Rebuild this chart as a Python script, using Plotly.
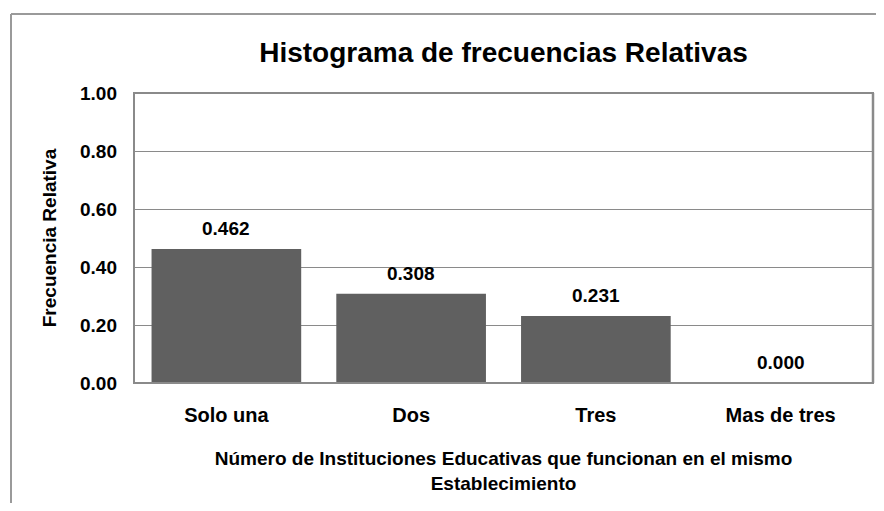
import plotly.graph_objects as go

categories = ["Solo una", "Dos", "Tres", "Mas de tres"]
rel_freq = [0.462, 0.308, 0.231, 0.000]
y_ticks = [0.0, 0.2, 0.4, 0.6, 0.8, 1.0]

title_text = "Histograma de frecuencias Relativas"
x_title = "Número de Instituciones Educativas que funcionan en el mismo<br>Establecimiento"
y_title = "Frecuencia Relativa"

FONT = "Arial, Liberation Sans, sans-serif"
BAR = "#606060"
LINE = "#8a8a8a"

fig = go.Figure()
fig.add_trace(go.Bar(
    x=categories, y=rel_freq,
    marker=dict(color=BAR, line=dict(width=0)),
    hoverinfo="skip",
))

for c, v in zip(categories, rel_freq):
    fig.add_annotation(
        x=c, y=v, xref="x", yref="y",
        text=f"{v:.3f}", showarrow=False,
        yanchor="bottom", yshift=8,
        font=dict(family=FONT, size=19, color="black", weight="bold"),
    )

# the page body adds an 8px margin; keep the figure inside the window
W, H = 868, 495
L, R, T, B = 126, 3, 85, 120
pw, ph = W - L - R, H - T - B
ox = (3 - L) / pw
oy = 1 + (T - 6) / ph

# plot-area frame
fig.add_shape(type="rect", xref="paper", yref="paper",
              x0=0, x1=1, y0=0, y1=1,
              line=dict(color=LINE, width=2), layer="above")
fig.add_shape(type="line", xref="paper", yref="paper",
              x0=1, x1=1, y0=0, y1=1,
              line=dict(color=LINE, width=2.5), layer="above")
# outer chart frame (partly outside the picture)
fig.add_shape(type="line", xref="paper", yref="paper",
              x0=ox, x1=ox, y0=-1.0, y1=oy,
              line=dict(color="#9a9a9a", width=2))
fig.add_shape(type="line", xref="paper", yref="paper",
              x0=ox, x1=1.2, y0=oy, y1=oy,
              line=dict(color="#9a9a9a", width=2))

fig.update_layout(
    width=W, height=H,
    margin=dict(l=L, r=R, t=T, b=B, autoexpand=False),
    paper_bgcolor="white", plot_bgcolor="white",
    bargap=0.19,
    showlegend=False,
    title=dict(text=title_text, x=(L + pw / 2) / W, xanchor="center",
               y=1 - 44 / H, yanchor="middle",
               font=dict(family=FONT, size=28, color="black", weight="bold")),
    xaxis=dict(
        showline=False,
        ticks="", showgrid=False,
        ticklabelstandoff=18,
        tickfont=dict(family=FONT, size=20, color="black", weight="bold"),
        title=dict(text=x_title, standoff=26,
                   font=dict(family=FONT, size=19, color="black", weight="bold")),
    ),
    yaxis=dict(
        range=[0, 1.0], tickvals=y_ticks, tickformat=".2f",
        showline=False,
        showgrid=True, gridcolor=LINE, gridwidth=1,
        ticks="", zeroline=False,
        ticklabelstandoff=16,
        tickfont=dict(family=FONT, size=19, color="black", weight="bold"),
        title=dict(text=y_title, standoff=18,
                   font=dict(family=FONT, size=19, color="black", weight="bold")),
    ),
)

fig.write_html("out.html")
